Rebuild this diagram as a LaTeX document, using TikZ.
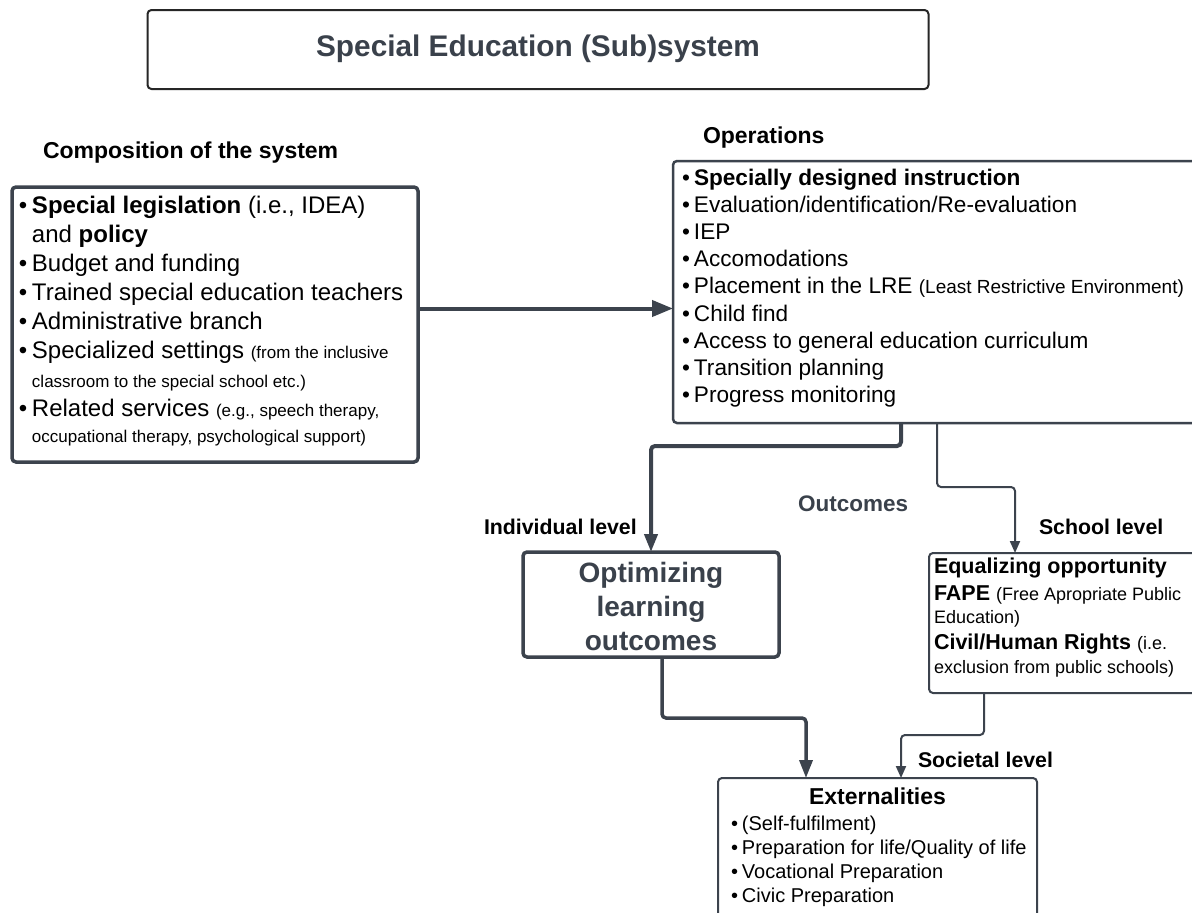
\documentclass[tikz,border=0pt]{standalone}
\usepackage{fontspec}
\setmainfont{Liberation Sans}
\usetikzlibrary{arrows.meta}
\definecolor{slate}{HTML}{3A414B}
\definecolor{edgec}{HTML}{3C434D}
\newcommand\blA{\makebox[13pt][l]{\textbullet}}
\newcommand\nbA{\hspace*{13pt}}
\newcommand\blB{\makebox[12pt][l]{\textbullet}}
\newcommand\blC{\makebox[11pt][l]{\textbullet}}
\begin{document}
\begin{tikzpicture}[x=1pt,y=-1pt,
  boxst/.style={draw=edgec, rounded corners=4pt, inner sep=0pt, outer sep=0pt, anchor=north west},
  txt/.style={inner sep=0pt, outer sep=0pt, anchor=base west, align=flush left, text=black},
  lbl/.style={inner sep=0pt, outer sep=0pt, anchor=base west, font=\bfseries\fontsize{21.3}{26}\selectfont, text=black},
  thk/.style={draw=edgec, line width=4pt, rounded corners=4pt, -{Triangle[length=18pt,width=13pt]}},
  thn/.style={draw=edgec, line width=2pt, rounded corners=4pt, -{Triangle[length=12pt,width=10pt]}}]
\path[use as bounding box] (0,0) rectangle (1192,913);
\clip (0,0) rectangle (1192,913);
\fill[white] (0,0) rectangle (1192,913);

% title
\node[boxst, draw=black!85, line width=2pt, minimum width=781pt, minimum height=79pt] (title) at (147.5,10) {};
\node[inner sep=0pt, anchor=base, font=\bfseries\fontsize{29.8}{36}\selectfont, text=slate] (titletext) at (538,56) {Special Education (Sub)system};

% composition
\node[lbl, font=\bfseries\fontsize{23}{28}\selectfont] (complbl) at (43,158) {Composition of the system};
\node[boxst, line width=3.5pt, minimum width=406pt, minimum height=275pt] (comp) at (12,187) {};
\node[txt, text width=500pt, font=\fontsize{24}{29}\selectfont] (comptext) at (19,213) {%
\blA\textbf{Special legislation} (i.e., IDEA)\\
\nbA and \textbf{policy}\\
\blA Budget and funding\\
\blA Trained special education teachers\\
\blA Administrative branch\\
\blA Specialized settings {\fontsize{17}{29}\selectfont (from the inclusive}\\
\nbA{\fontsize{17}{29}\selectfont classroom to the special school etc.)}\\
\blA Related services {\fontsize{17}{29}\selectfont (e.g., speech therapy,}\\[-3pt]
\nbA{\fontsize{17}{29}\selectfont occupational therapy, psychological support)}};

% operations
\node[lbl, font=\bfseries\fontsize{23}{28}\selectfont] (opslbl) at (703,143) {Operations};
\node[boxst, line width=2.5pt, minimum width=540pt, minimum height=262pt] (ops) at (673,161) {};
\node[txt, text width=600pt, font=\fontsize{22.6}{27.2}\selectfont] (opstext) at (682,185) {%
\blB\textbf{Specially designed instruction}\\
\blB Evaluation/identification/Re-evaluation\\
\blB IEP\\
\blB Accomodations\\
\blB Placement in the LRE {\fontsize{19}{27.2}\selectfont (Least Restrictive Environment)}\\
\blB Child find\\
\blB Access to general education curriculum\\
\blB Transition planning\\
\blB Progress monitoring};

% outcomes labels
\node[lbl, font=\bfseries\fontsize{22.5}{27}\selectfont, text=slate] (outlbl) at (798,511) {Outcomes};
\node[lbl] (indlbl) at (484,534) {Individual level};
\node[lbl] (schlbl) at (1039,534) {School level};
\node[lbl] (soclbl) at (918,767) {Societal level};

% optimizing
\node[boxst, line width=3.5pt, minimum width=256pt, minimum height=105pt] (opt) at (523,552) {};
\node[inner sep=0pt, anchor=base, text width=250pt, align=center, font=\bfseries\fontsize{28}{34}\selectfont, text=slate] (opttext) at (651,582) {Optimizing\\learning\\outcomes};

% school
\node[boxst, line width=2pt, minimum width=280pt, minimum height=140pt] (school) at (929,553) {};
\node[txt, text width=400pt, font=\fontsize{21.5}{24}\selectfont] (schooltext) at (934,573) {%
\textbf{Equalizing opportunity}\\[3pt]
\textbf{FAPE} {\fontsize{18}{24}\selectfont (Free Apropriate Public}\\[-1pt]
{\fontsize{18}{24}\selectfont Education)}\\[2pt]
\textbf{Civil/Human Rights} {\fontsize{18}{24}\selectfont (i.e.}\\
{\fontsize{18}{24}\selectfont exclusion from public schools)}};

% externalities
\node[boxst, line width=2pt, minimum width=319pt, minimum height=160pt] (ext) at (718,778) {};
\node[inner sep=0pt, anchor=base, font=\bfseries\fontsize{23}{28}\selectfont] (exttitle) at (877.5,804) {Externalities};
\node[txt, text width=400pt, font=\fontsize{20}{24}\selectfont] (exttext) at (731,830) {%
\blC(Self-fulfilment)\\
\blC Preparation for life/Quality of life\\
\blC Vocational Preparation\\
\blC Civic Preparation};

% connectors
\draw[draw=edgec, line width=4pt, -{Triangle[length=21pt,width=16pt]}] ([yshift=16pt]comp.east) -- ([yshift=16pt]comp.east -| ops.west);
\draw[thk] ([xshift=228pt]ops.south west) -- ++(0,23) -| (opt.north);
\draw[thn] ([xshift=264pt]ops.south west) -- ++(0,64) -| ([xshift=86pt]school.north west);
\draw[thk, line width=3.5pt] ([xshift=11pt]opt.south) -- ++(0,61) -| ([xshift=88pt]ext.north west);
\draw[thn] ([xshift=55pt]school.south west) -- ++(0,42) -| ([xshift=183pt]ext.north west);
\end{tikzpicture}
\end{document}
